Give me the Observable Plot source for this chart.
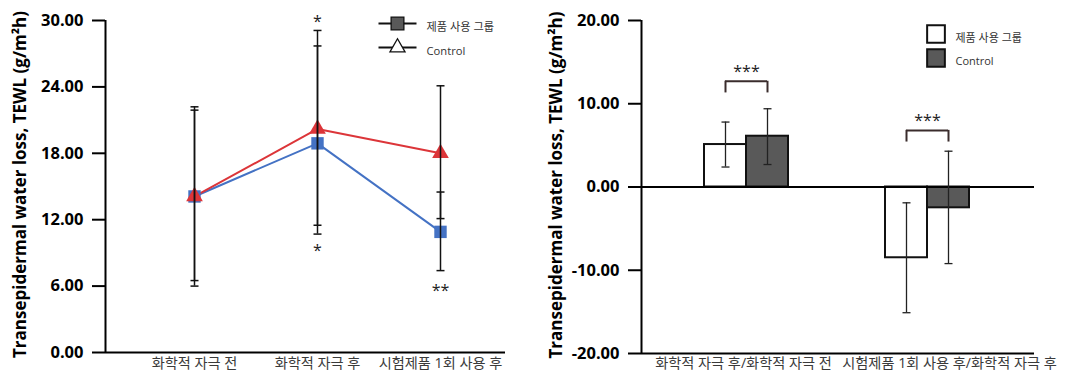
<!DOCTYPE html>
<html><head><meta charset="utf-8">
<script src="https://cdn.jsdelivr.net/npm/d3@7"></script>
<script src="https://cdn.jsdelivr.net/npm/@observablehq/plot@0.6"></script>
<style>
body{margin:0;background:#fff;}
#wrap{display:flex;width:1072px;height:378px;overflow:hidden;}
#wrap svg{display:block;}
</style></head><body><div id="wrap"></div>
<script>
// ---------- Left chart data ----------
const stages = ["화학적 자극 전", "화학적 자극 후", "시험제품 1회 사용 후"];
const productMean = [14.1, 18.9, 10.9];
const productLow = [6.5, 10.7, 7.4];
const productHigh = [21.9, 27.7, 14.5];
const controlMean = [14.1, 20.2, 18.0];
const controlLow = [6.0, 11.5, 12.1];
const controlHigh = [22.2, 29.1, 24.1];
const leftYTicks = [0, 6, 12, 18, 24, 30];
const sigStages = ["화학적 자극 후", "화학적 자극 후", "시험제품 1회 사용 후"];
const sigValues = [29.9, 9.2, 5.6];
const sigLabels = ["*", "*", "**"];
const seriesNames = ["제품 사용 그룹", "Control"];

// ---------- Right chart data ----------
const changeGroups = ["화학적 자극 후/화학적 자극 전", "시험제품 1회 사용 후/화학적 자극 후"];
const changeProduct = [5.1, -8.5];
const changeProductLow = [2.4, -15.1];
const changeProductHigh = [7.8, -1.9];
const changeControl = [6.1, -2.5];
const changeControlLow = [2.7, -9.2];
const changeControlHigh = [9.4, 4.3];
const rightYTicks = [-20, -10, 0, 10, 20];
const bracketTop = [12.7, 6.8];
const bracketBottom = [11.3, 5.4];
const starValues = [13.8, 8.0];
const starLabels = ["***", "***"];

const yTitle = "Transepidermal water loss, TEWL (g/m²h)";

const FONT = "'Open Sans', 'Noto Sans CJK KR', sans-serif";
const BLUE = "#4472C4";
const RED = "#DC3539";
const DARK = "#595959";

const productData = stages.map((s, i) => ({stage: s, mean: productMean[i], low: productLow[i], high: productHigh[i]}));
const controlData = stages.map((s, i) => ({stage: s, mean: controlMean[i], low: controlLow[i], high: controlHigh[i]}));
const sigData = sigStages.map((s, i) => ({stage: s, y: sigValues[i], label: sigLabels[i]}));

const hline = {draw(ctx) { ctx.moveTo(-19, 0); ctx.lineTo(19, 0); }};
const cap = {draw(ctx) { ctx.moveTo(-4, 0); ctx.lineTo(4, 0); }};

function errorMarks(data) {
  const st = {stroke: "#111", strokeWidth: 1.5};
  return [
    Plot.ruleX(data, {x: "stage", y1: "low", y2: "high", ...st}),
    Plot.dot(data, {x: "stage", y: "low", symbol: cap, fill: "none", ...st}),
    Plot.dot(data, {x: "stage", y: "high", symbol: cap, fill: "none", ...st})
  ];
}

const leftPlot = Plot.plot({
  width: 536, height: 378,
  marginLeft: 105, marginRight: 31, marginTop: 20, marginBottom: 26,
  style: {fontFamily: FONT, background: "white", overflow: "visible", color: "#000"},
  x: {type: "point", domain: stages, padding: 0.619, align: 0.575, axis: null},
  y: {domain: d3.extent(leftYTicks)},
  marks: [
    Plot.axisY({ticks: leftYTicks, tickFormat: d => d.toFixed(2), tickSize: 13, tickPadding: 9,
      fontSize: 16.5, fontWeight: "bold", strokeWidth: 2, label: null}),
    Plot.ruleX([0], {x: null, y1: leftYTicks[0], y2: leftYTicks[leftYTicks.length - 1], dx: -200, strokeWidth: 2}),
    Plot.ruleY([leftYTicks[0]], {strokeWidth: 2}),
    Plot.line(productData, {x: "stage", y: "mean", stroke: BLUE, strokeWidth: 2}),
    Plot.line(controlData, {x: "stage", y: "mean", stroke: RED, strokeWidth: 2}),
    Plot.dot(productData, {x: "stage", y: "mean", symbol: "square", r: 7, fill: BLUE}),
    Plot.dot(controlData, {x: "stage", y: "mean", symbol: "triangle", r: 6.2, fill: RED}),
    ...errorMarks(productData),
    ...errorMarks(controlData),
    Plot.text(sigData, {x: "stage", y: "y", text: "label", fontSize: 16, fill: "#222"}),
    Plot.text(stages, {x: d => d, frameAnchor: "bottom", dy: 15, fontSize: 14.2, fill: "#3a3a3a"}),
    // legend
    Plot.dot([seriesNames[0]], {frameAnchor: "top-left", dx: 292, dy: 3, symbol: hline, stroke: "#111", strokeWidth: 2, fill: "none"}),
    Plot.dot([seriesNames[0]], {frameAnchor: "top-left", dx: 292, dy: 3, symbol: "square", r: 7.2, fill: DARK, stroke: "#111", strokeWidth: 1.3}),
    Plot.dot([seriesNames[1]], {frameAnchor: "top-left", dx: 292, dy: 27, symbol: hline, stroke: "#111", strokeWidth: 2, fill: "none"}),
    Plot.dot([seriesNames[1]], {frameAnchor: "top-left", dx: 292, dy: 27, symbol: "triangle", r: 5.6, fill: "white", stroke: "#111", strokeWidth: 1.3}),
    Plot.text([seriesNames[0]], {frameAnchor: "top-left", dx: 321, dy: 3, textAnchor: "start", fontSize: 11.2, fill: "#333"}),
    Plot.text([seriesNames[1]], {frameAnchor: "top-left", dx: 321, dy: 27, textAnchor: "start", fontSize: 11.2, fill: "#333"}),
    Plot.text([yTitle], {frameAnchor: "left", textAnchor: "middle", rotate: -90, dx: -85, dy: -2, fontSize: 17, fontWeight: "bold", fill: "#000"})
  ]
});

// ---------- Right chart ----------
const barP = changeGroups.map((g, i) => ({group: g, value: changeProduct[i], low: changeProductLow[i], high: changeProductHigh[i]}));
const barC = changeGroups.map((g, i) => ({group: g, value: changeControl[i], low: changeControlLow[i], high: changeControlHigh[i]}));
const brackets = changeGroups.map((g, i) => ({group: g, top: bracketTop[i], bottom: bracketBottom[i], star: starValues[i], label: starLabels[i]}));

function barErrors(data, shift) {
  const st = {stroke: "#222", strokeWidth: 1.3};
  return [
    Plot.ruleX(data, {x: "group", y1: "low", y2: "high", dx: shift, ...st}),
    Plot.dot(data, {x: "group", y: "low", dx: shift, symbol: cap, fill: "none", ...st}),
    Plot.dot(data, {x: "group", y: "high", dx: shift, symbol: cap, fill: "none", ...st})
  ];
}

const rightPlot = Plot.plot({
  width: 536, height: 378,
  marginLeft: 105, marginRight: 38, marginTop: 20, marginBottom: 25,
  style: {fontFamily: FONT, background: "white", overflow: "visible", color: "#000"},
  x: {type: "band", domain: changeGroups, paddingInner: 0.535, paddingOuter: 0.35, align: 0.49, axis: null},
  y: {domain: d3.extent(rightYTicks)},
  marks: [
    Plot.axisY({ticks: rightYTicks, tickFormat: d => d.toFixed(2), tickSize: 13, tickPadding: 9,
      fontSize: 16.5, fontWeight: "bold", strokeWidth: 2, label: null}),
    Plot.barY(barP, {x: "group", y1: 0, y2: "value", insetRight: 42, fill: "white", stroke: "#111", strokeWidth: 2}),
    Plot.barY(barC, {x: "group", y1: 0, y2: "value", insetLeft: 42, fill: DARK, stroke: "#111", strokeWidth: 2}),
    Plot.ruleX([0], {x: null, y1: rightYTicks[0], y2: rightYTicks[rightYTicks.length - 1], dx: -196.5, strokeWidth: 2}),
    Plot.ruleY([rightYTicks[0]], {strokeWidth: 2}),
    Plot.ruleY([0], {strokeWidth: 2}),
    ...barErrors(barP, -21),
    ...barErrors(barC, 21),
    Plot.tickY(brackets, {x: "group", y: "top", insetLeft: 21, insetRight: 21, stroke: "#3a2c2c", strokeWidth: 2}),
    Plot.ruleX(brackets, {x: "group", y1: "bottom", y2: "top", dx: -21, stroke: "#3a2c2c", strokeWidth: 2}),
    Plot.ruleX(brackets, {x: "group", y1: "bottom", y2: "top", dx: 21, stroke: "#3a2c2c", strokeWidth: 2}),
    Plot.text(brackets, {x: "group", y: "star", text: "label", fontSize: 16, fill: "#222"}),
    Plot.text([changeGroups[0]], {x: d => d, frameAnchor: "bottom", dy: 14, dx: -3, fontSize: 14.2, fill: "#3a3a3a"}),
    Plot.text([changeGroups[1]], {x: d => d, frameAnchor: "bottom", dy: 14, dx: 22, fontSize: 14.2, fill: "#3a3a3a"}),
    // legend
    Plot.dot([seriesNames[0]], {frameAnchor: "top-left", dx: 294.5, dy: 13.5, symbol: "square", r: 10, fill: "white", stroke: "#111", strokeWidth: 2}),
    Plot.dot([seriesNames[1]], {frameAnchor: "top-left", dx: 294.5, dy: 37.5, symbol: "square", r: 10, fill: DARK, stroke: "#111", strokeWidth: 2}),
    Plot.text([seriesNames[0]], {frameAnchor: "top-left", dx: 314, dy: 14, textAnchor: "start", fontSize: 11, fill: "#333"}),
    Plot.text([seriesNames[1]], {frameAnchor: "top-left", dx: 314, dy: 37, textAnchor: "start", fontSize: 11, fill: "#333"}),
    Plot.text([yTitle], {frameAnchor: "left", textAnchor: "middle", rotate: -90, dx: -85, dy: -2, fontSize: 17, fontWeight: "bold", fill: "#000"})
  ]
});

document.getElementById("wrap").append(leftPlot, rightPlot);
</script>
</body></html>
